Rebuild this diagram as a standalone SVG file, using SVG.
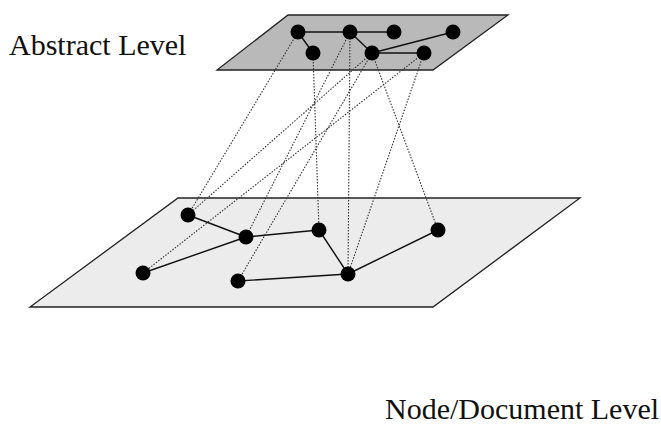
<svg xmlns="http://www.w3.org/2000/svg" width="661" height="434" viewBox="0 0 661 434">
<style>
.plane-top{fill:#b9b9b9;stroke:#222;stroke-width:1.3}
.plane-bot{fill:#ececec;stroke:#222;stroke-width:1.3}
.edge{stroke:#111;stroke-width:1.4;fill:none}
.link{stroke:#333;stroke-width:1.1;stroke-dasharray:1.5 1.5;fill:none}
.node{fill:#000}
.label{font-family:"Liberation Serif","Times New Roman",serif;font-size:30px;fill:#111}
</style>
<rect width="661" height="434" fill="#fff"/>
<g id="bottom-plane"><polygon class="plane-bot" points="178,198 580,198 433,307 30,307"/></g>
<g id="top-plane"><polygon class="plane-top" points="288,15 508,15 433,70 217,70"/></g>
<g id="connectors">
<line class="edge" x1="298" y1="32" x2="350" y2="32"/>
<line class="edge" x1="350" y1="32" x2="394" y2="32"/>
<line class="edge" x1="298" y1="32" x2="313" y2="53"/>
<line class="edge" x1="350" y1="32" x2="372" y2="53"/>
<line class="edge" x1="372" y1="53" x2="424" y2="53"/>
<line class="edge" x1="372" y1="53" x2="453" y2="32"/>
<line class="edge" x1="188" y1="215" x2="246" y2="237"/>
<line class="edge" x1="246" y1="237" x2="319" y2="230"/>
<line class="edge" x1="143" y1="273" x2="246" y2="237"/>
<line class="edge" x1="319" y1="230" x2="348" y2="274"/>
<line class="edge" x1="238" y1="281" x2="348" y2="274"/>
<line class="edge" x1="348" y1="274" x2="438" y2="230"/>
<line class="link" x1="298" y1="32" x2="188" y2="215"/>
<line class="link" x1="372" y1="53" x2="188" y2="215"/>
<line class="link" x1="350" y1="32" x2="246" y2="237"/>
<line class="link" x1="313" y1="53" x2="319" y2="230"/>
<line class="link" x1="350" y1="32" x2="348" y2="274"/>
<line class="link" x1="424" y1="53" x2="348" y2="274"/>
<line class="link" x1="372" y1="53" x2="438" y2="230"/>
<line class="link" x1="424" y1="53" x2="143" y2="273"/>
<line class="link" x1="372" y1="53" x2="238" y2="281"/>
</g>
<g id="a1"><circle class="node" cx="298" cy="32" r="7.5"/></g>
<g id="a2"><circle class="node" cx="350" cy="32" r="7.5"/></g>
<g id="a3"><circle class="node" cx="394" cy="32" r="7.5"/></g>
<g id="a4"><circle class="node" cx="453" cy="32" r="7.5"/></g>
<g id="a5"><circle class="node" cx="313" cy="53" r="7.5"/></g>
<g id="a6"><circle class="node" cx="372" cy="53" r="7.5"/></g>
<g id="a7"><circle class="node" cx="424" cy="53" r="7.5"/></g>
<g id="d1"><circle class="node" cx="188" cy="215" r="7.5"/></g>
<g id="d2"><circle class="node" cx="246" cy="237" r="7.5"/></g>
<g id="d3"><circle class="node" cx="319" cy="230" r="7.5"/></g>
<g id="d4"><circle class="node" cx="143" cy="273" r="7.5"/></g>
<g id="d5"><circle class="node" cx="238" cy="281" r="7.5"/></g>
<g id="d6"><circle class="node" cx="348" cy="274" r="7.5"/></g>
<g id="d7"><circle class="node" cx="438" cy="230" r="7.5"/></g>
<g id="labels">
<text class="label" x="9" y="55">Abstract Level</text>
<text class="label" x="385" y="419">Node/Document Level</text>
</g>
</svg>
